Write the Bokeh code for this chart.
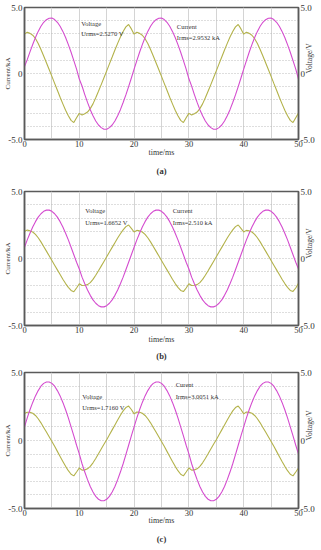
import math
from bokeh.plotting import figure
from bokeh.models import Range1d, LinearAxis, FixedTicker, Label, Title
from bokeh.layouts import column
from bokeh.embed import file_html
from bokeh.resources import INLINE

# sample grid (ms)
time_ms = [i * 0.5 for i in range(101)]

# ---------------- panel (a) ----------------
current_a = [
    0.52, 1.05, 1.64, 2.20, 2.73, 3.19, 3.58, 3.88, 4.08, 4.19,
    4.20, 4.09, 3.88, 3.58, 3.19, 2.73, 2.19, 1.61, 0.98, 0.33,
    -0.42, -0.95, -1.60, -2.19, -2.74, -3.20, -3.60, -3.90, -4.10, -4.22,
    -4.22, -4.10, -3.90, -3.60, -3.20, -2.74, -2.20, -1.62, -0.99, -0.34,
    0.33, 0.98, 1.61, 2.19, 2.73, 3.19, 3.58, 3.88, 4.08, 4.19,
    4.20, 4.09, 3.88, 3.58, 3.19, 2.73, 2.19, 1.61, 0.98, 0.33,
    -0.40, -0.96, -1.60, -2.19, -2.74, -3.20, -3.60, -3.90, -4.10, -4.22,
    -4.22, -4.10, -3.90, -3.60, -3.20, -2.74, -2.20, -1.62, -0.99, -0.34,
    0.33, 0.98, 1.61, 2.19, 2.73, 3.19, 3.58, 3.88, 4.08, 4.19,
    4.20, 4.09, 3.88, 3.58, 3.19, 2.73, 2.19, 1.61, 0.98, 0.33,
    -0.42,
]
voltage_a = [
    2.98, 3.12, 3.04, 2.90, 2.65, 2.28, 1.82, 1.33, 0.82, 0.30,
    -0.22, -0.75, -1.27, -1.80, -2.30, -2.78, -3.20, -3.55, -3.72, -3.35,
    -3.02, -3.14, -3.05, -2.92, -2.66, -2.30, -1.84, -1.35, -0.84, -0.32,
    0.20, 0.73, 1.25, 1.78, 2.28, 2.76, 3.18, 3.53, 3.71, 3.38,
    2.98, 3.12, 3.04, 2.90, 2.64, 2.28, 1.82, 1.33, 0.82, 0.30,
    -0.22, -0.75, -1.27, -1.80, -2.30, -2.78, -3.20, -3.55, -3.72, -3.35,
    -3.02, -3.14, -3.05, -2.92, -2.66, -2.30, -1.84, -1.35, -0.84, -0.32,
    0.20, 0.73, 1.25, 1.78, 2.28, 2.76, 3.18, 3.53, 3.71, 3.38,
    2.98, 3.12, 3.04, 2.90, 2.64, 2.28, 1.82, 1.33, 0.82, 0.30,
    -0.22, -0.75, -1.27, -1.80, -2.30, -2.78, -3.20, -3.55, -3.72, -3.35,
    -3.00,
]

# ---------------- panel (b) ----------------
current_b = [
    0.84, 1.39, 1.89, 2.35, 2.75, 3.09, 3.34, 3.52, 3.61, 3.61,
    3.52, 3.34, 3.09, 2.75, 2.35, 1.89, 1.39, 0.84, 0.28, -0.28,
    -0.78, -1.39, -1.89, -2.35, -2.75, -3.09, -3.34, -3.52, -3.61, -3.61,
    -3.52, -3.34, -3.09, -2.75, -2.35, -1.89, -1.39, -0.84, -0.28, 0.28,
    0.84, 1.39, 1.89, 2.35, 2.75, 3.09, 3.34, 3.52, 3.61, 3.61,
    3.52, 3.34, 3.09, 2.75, 2.35, 1.89, 1.39, 0.84, 0.28, -0.28,
    -0.78, -1.39, -1.89, -2.35, -2.75, -3.09, -3.34, -3.52, -3.61, -3.61,
    -3.52, -3.34, -3.09, -2.75, -2.35, -1.89, -1.39, -0.84, -0.28, 0.28,
    0.84, 1.39, 1.89, 2.35, 2.75, 3.09, 3.34, 3.52, 3.61, 3.61,
    3.52, 3.34, 3.09, 2.75, 2.35, 1.89, 1.39, 0.84, 0.28, -0.28,
    -0.78,
]
voltage_b = [
    2.02, 2.12, 2.06, 1.98, 1.80, 1.55, 1.24, 0.90, 0.55, 0.20,
    -0.15, -0.50, -0.85, -1.20, -1.55, -1.87, -2.15, -2.38, -2.48, -2.20,
    -1.88, -2.02, -2.00, -1.95, -1.80, -1.56, -1.25, -0.92, -0.57, -0.22,
    0.13, 0.48, 0.83, 1.18, 1.53, 1.85, 2.14, 2.38, 2.50, 2.25,
    1.98, 2.10, 2.06, 1.98, 1.80, 1.55, 1.24, 0.90, 0.55, 0.20,
    -0.15, -0.50, -0.85, -1.20, -1.55, -1.87, -2.15, -2.38, -2.47, -2.20,
    -1.88, -2.02, -2.00, -1.95, -1.80, -1.56, -1.25, -0.92, -0.57, -0.22,
    0.13, 0.48, 0.83, 1.18, 1.53, 1.85, 2.14, 2.38, 2.50, 2.25,
    1.98, 2.10, 2.06, 1.98, 1.80, 1.55, 1.24, 0.90, 0.55, 0.20,
    -0.15, -0.50, -0.85, -1.20, -1.55, -1.87, -2.15, -2.38, -2.46, -2.20,
    -1.85,
]

# ---------------- panel (c) ----------------
current_c = [
    1.00, 1.66, 2.26, 2.80, 3.28, 3.67, 3.99, 4.20, 4.30, 4.30,
    4.20, 3.99, 3.67, 3.28, 2.80, 2.26, 1.66, 1.00, 0.34, -0.35,
    -0.98, -1.71, -2.32, -2.88, -3.38, -3.79, -4.11, -4.32, -4.43, -4.43,
    -4.32, -4.11, -3.79, -3.38, -2.88, -2.32, -1.71, -1.04, -0.35, 0.34,
    1.00, 1.66, 2.26, 2.80, 3.28, 3.67, 3.99, 4.20, 4.30, 4.30,
    4.20, 3.99, 3.67, 3.28, 2.80, 2.26, 1.66, 1.00, 0.34, -0.35,
    -0.98, -1.71, -2.32, -2.88, -3.38, -3.79, -4.11, -4.32, -4.43, -4.43,
    -4.32, -4.11, -3.79, -3.38, -2.88, -2.32, -1.71, -1.04, -0.35, 0.34,
    1.00, 1.66, 2.26, 2.80, 3.28, 3.67, 3.99, 4.20, 4.30, 4.30,
    4.20, 3.99, 3.67, 3.28, 2.80, 2.26, 1.66, 1.00, 0.34, -0.35,
    -1.00,
]
voltage_c = [
    1.98, 2.08, 2.08, 2.00, 1.84, 1.60, 1.30, 0.96, 0.62, 0.28,
    -0.07, -0.43, -0.80, -1.17, -1.54, -1.90, -2.22, -2.48, -2.60, -2.32,
    -2.02, -2.18, -2.16, -2.08, -1.90, -1.64, -1.32, -0.98, -0.63, -0.28,
    0.06, 0.42, 0.78, 1.14, 1.50, 1.86, 2.18, 2.42, 2.53, 2.28,
    1.96, 2.10, 2.08, 2.00, 1.84, 1.60, 1.30, 0.96, 0.62, 0.28,
    -0.07, -0.43, -0.80, -1.17, -1.54, -1.90, -2.22, -2.48, -2.60, -2.32,
    -2.02, -2.18, -2.16, -2.08, -1.90, -1.64, -1.32, -0.98, -0.63, -0.28,
    0.06, 0.42, 0.78, 1.14, 1.50, 1.86, 2.18, 2.42, 2.53, 2.28,
    1.96, 2.10, 2.08, 2.00, 1.84, 1.60, 1.30, 0.96, 0.62, 0.28,
    -0.07, -0.43, -0.80, -1.17, -1.54, -1.90, -2.22, -2.48, -2.60, -2.32,
    -2.02,
]

x_ticks = [0, 10, 20, 30, 40, 50]
y_ticks = [-5, 0, 5]
y_tick_labels = {5: "5.0", 0: "0", -5: "-5.0"}
v_grid = [5, 10, 15, 20, 25, 30, 35, 40, 45]
h_grid = [-4, -3, -2, -1, 0, 1, 2, 3, 4]

panels = [
    dict(cur=current_a, volt=voltage_a, tag="(a)",
         v_name="Voltage", v_val="Urms=2.5270 V", c_name="Current", c_val="Irms=2.9532 kA",
         h=180, top=7, bottom=40, left=24, right=22, xs=-2, ts=9,
         v_xy=(10.36, 3.82, 3.04), c_xy=(27.8, 3.59, 2.76)),
    dict(cur=current_b, volt=voltage_b, tag="(b)",
         v_name="Voltage", v_val="Urms=1.6652 V", c_name="Current", c_val="Irms=2.510 kA",
         h=185, top=11, bottom=40, left=22, right=20, xs=-1, ts=5,
         v_xy=(11.1, 3.56, 2.69), c_xy=(27.06, 3.56, 2.69)),
    dict(cur=current_c, volt=voltage_c, tag="(c)",
         v_name="Voltage", v_val="Urms=1.7160 V", c_name="Curent", c_val="Irms=3.0051 kA",
         h=185, top=7, bottom=42, left=21, right=19, xs=-3, ts=9,
         v_xy=(10.55, 3.2, 2.46), c_xy=(27.58, 4.11, 3.25)),
]

SERIF = "Liberation Serif"
TXT = "#333333"
MAGENTA = "#d44ccf"
OLIVE = "#b3b24a"
FRAME = "#5a5a5a"


def style_axis(ax, size):
    ax.axis_line_color = FRAME
    ax.axis_line_width = 1.5
    ax.major_tick_out = 0
    ax.major_tick_in = 0
    ax.minor_tick_out = 0
    ax.minor_tick_in = 0
    ax.major_label_text_font = SERIF
    ax.major_label_text_color = TXT
    ax.major_label_text_font_size = size
    ax.axis_label_text_font = SERIF
    ax.axis_label_text_font_style = "normal"
    ax.axis_label_text_color = TXT


figs = []
for d in panels:
    p = figure(width=321, height=d["h"], output_backend="svg", toolbar_location=None,
               x_range=Range1d(0, 50), y_range=Range1d(-5, 5),
               min_border_top=d["top"], min_border_bottom=d["bottom"],
               min_border_left=d["left"], min_border_right=d["right"])
    p.outline_line_color = FRAME
    p.outline_line_width = 1.5
    p.background_fill_color = "white"
    p.border_fill_color = "white"

    xa = p.xaxis[0]
    style_axis(xa, "8.5px")
    xa.ticker = FixedTicker(ticks=x_ticks)
    xa.major_label_standoff = 1
    xa.axis_label = "time/ms"
    xa.axis_label_text_font_size = "8px"
    xa.axis_label_standoff = d["xs"]

    ya = p.yaxis[0]
    style_axis(ya, "9px")
    ya.ticker = FixedTicker(ticks=y_ticks)
    ya.major_label_overrides = y_tick_labels
    ya.major_label_standoff = 2
    ya.axis_label = "Current/kA"
    ya.axis_label_text_font_size = "7px"
    ya.axis_label_standoff = -7

    ra = LinearAxis(ticker=FixedTicker(ticks=y_ticks), major_label_overrides=y_tick_labels,
                    major_label_standoff=2, axis_label="Voltage/V",
                    axis_label_standoff=-8, axis_label_orientation=math.pi / 2)
    style_axis(ra, "9px")
    ra.axis_label_text_font_size = "7.5px"
    p.add_layout(ra, "right")

    p.add_layout(Title(text=d["tag"], align="center", text_font=SERIF,
                       text_font_size="8.5px", text_font_style="bold",
                       text_color=TXT, standoff=d["ts"]), "below")

    # grids
    p.xgrid.ticker = FixedTicker(ticks=v_grid)
    p.xgrid.grid_line_color = "#d4d4d4"
    p.xgrid.grid_line_width = 1
    p.ygrid.ticker = FixedTicker(ticks=h_grid)
    p.ygrid.grid_line_color = "#bdbdbd"
    p.ygrid.grid_line_dash = "1 2"
    p.ygrid.grid_line_width = 1

    p.line(time_ms, d["volt"], line_color=OLIVE, line_width=1.1)
    p.line(time_ms, d["cur"], line_color=MAGENTA, line_width=1.1)

    def lab(x, y, t):
        p.add_layout(Label(x=x, y=y, text=t, text_font=SERIF, text_font_size="6.5px",
                           text_color=TXT, text_baseline="middle"))

    vx, vy1, vy2 = d["v_xy"]
    lab(vx, vy1, d["v_name"])
    lab(vx, vy2, d["v_val"])
    cx, cy1, cy2 = d["c_xy"]
    lab(cx, cy1, d["c_name"])
    lab(cx, cy2, d["c_val"])
    figs.append(p)

layout = column(*figs, spacing=0, margin=0)

open("out.html", "w").write(file_html(layout, INLINE))
